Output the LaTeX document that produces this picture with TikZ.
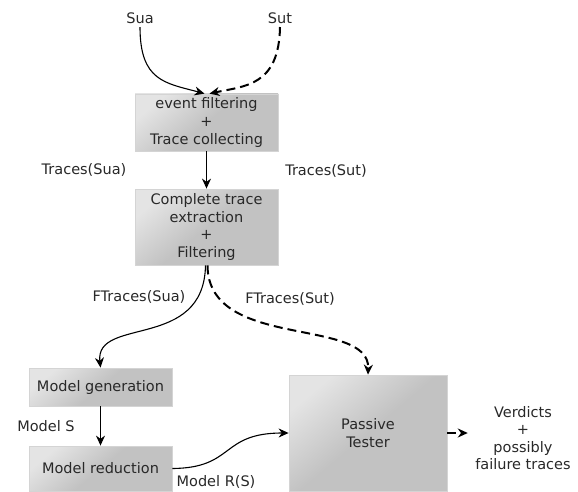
\documentclass[tikz,border=0pt]{standalone}
\usepackage{fontspec}
\setmainfont{DejaVu Sans}
\usepackage{xcolor}
\usepackage{tikz}
\usetikzlibrary{arrows.meta,positioning}
\definecolor{boxgray}{RGB}{194,194,194}
\definecolor{boxlight}{RGB}{228,228,228}
\definecolor{boxedge}{RGB}{212,212,212}
\definecolor{textgray}{RGB}{40,40,40}

\begin{document}
\begin{tikzpicture}[x=1pt,y=1pt,font=\fontsize{14.5}{17.5}\selectfont,text=textgray,
  box/.style={draw=boxedge,line width=0.8pt,top color=boxlight,bottom color=boxgray,middle color=boxgray,shading angle=40,minimum width=143pt,align=center,inner sep=0pt},
  flow/.style={line width=1.1pt,-{Stealth[length=10pt,width=9pt]}},
  sutflow/.style={flow,line width=2pt,dash pattern=on 9pt off 5pt}
]
  \useasboundingbox (0,0) rectangle (578,491);
  % sources
  \node (sua) at (140,473) {Sua};
  \node (sut) at (280,473) {Sut};
  % processing chain
  \node[box,minimum height=57pt] (collect) at (206.5,368.5) {event filtering\\+\\Trace collecting};
  \node[box,minimum height=76pt] (extract) at (206.5,264) {Complete trace\\extraction\\+\\Filtering};
  \node[box,minimum height=38pt] (modgen) at (100.5,104) {Model generation};
  \node[box,minimum height=45pt] (modred) at (100.5,22.5) {Model reduction};
  \node[box,minimum width=158pt,minimum height=116pt] (tester) at (368,58) {Passive\\Tester};
  \node[align=center] (verdicts) at (523,53) {Verdicts\\+\\possibly\\failure traces};
  % labels
  \node (tsua) at (84,321) {Traces(Sua)};
  \node (tsut) at (326,320) {Traces(Sut)};
  \node (ftsua) at (139,194) {FTraces(Sua)};
  \node (ftsut) at (290,192) {FTraces(Sut)};
  \node (models) at (46,65) {Model S};
  \node (modelrs) at (216,9) {Model R(S)};
  % connectors
  \draw[flow] (sua.south) .. controls (140,410) and (165,408) .. ([xshift=-2pt]collect.north);
  \draw[sutflow] (sut.south) .. controls (279,405) and (245,405) .. ([xshift=3pt]collect.north);
  \draw[flow] (collect) -- (extract);
  \draw[flow] ([xshift=-1pt]extract.south) .. controls (204,140) and (95,175) .. (modgen.north);
  \draw[sutflow] ([xshift=1pt]extract.south) .. controls (208,140) and (370,175) .. (tester.north);
  \draw[flow] (modgen) -- (modred);
  \draw[flow] (modred.east) .. controls (235,23) and (220,58) .. (tester.west);
  \draw[sutflow] (tester.east) -- ([xshift=-4pt]verdicts.west |- tester.east);
\end{tikzpicture}
\end{document}
